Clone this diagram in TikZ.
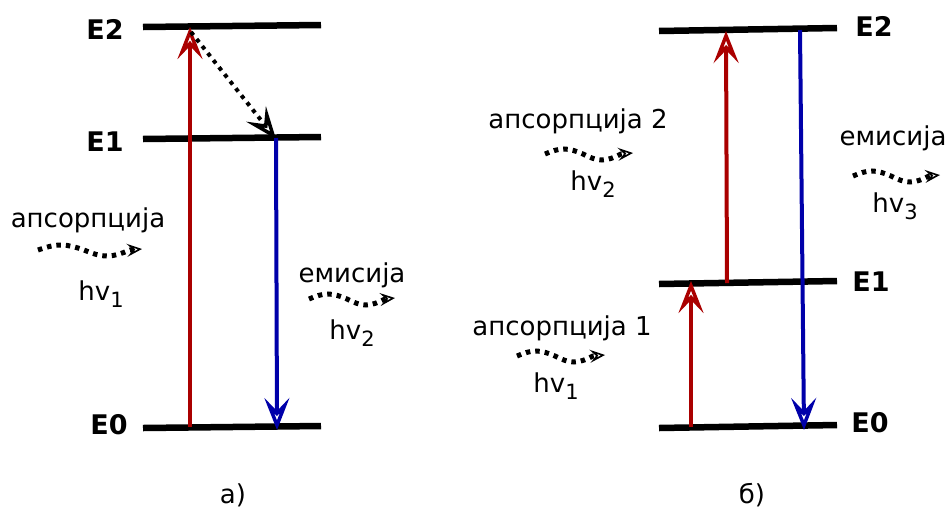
\documentclass[tikz,border=0pt]{standalone}
\usepackage{fontspec}
\setmainfont{DejaVu Sans}
\usetikzlibrary{arrows.meta}
\definecolor{absred}{RGB}{170,0,0}
\definecolor{emiblue}{RGB}{0,0,170}
\newcommand{\lowidx}[1]{\raisebox{-0.3em}{\fontsize{21}{21}\selectfont #1}}

\begin{document}
\begin{tikzpicture}[x=1pt,y=-1pt,
  level/.style={line width=6.5pt},
  lbl/.style={font=\fontsize{27}{30}\selectfont\bfseries,inner sep=0pt},
  txt/.style={font=\fontsize{26}{30}\selectfont,inner sep=0pt,anchor=base},
  bigtip/.style={-{Stealth[length=32pt,width=25pt,inset=13pt,fill=white,line width=3.5pt]}},
  upr/.style={bigtip,draw=absred,line width=4pt},
  dnb/.style={bigtip,draw=emiblue,line width=4pt},
  relax/.style={bigtip,line width=4pt,dash pattern=on 4pt off 5pt},
  photon/.style={line width=5pt,dash pattern=on 4.5pt off 5pt,
    -{Stealth[length=15pt,width=13pt,inset=6pt,fill=white,line width=1.6pt]}}
]
\useasboundingbox (0,0) rectangle (947,512);
% a) levels
\draw[level] (143,27) -- (321,25);
\draw[level] (143,139) -- (321,137);
\draw[level] (143,428) -- (321,426);
\node[lbl] (la2) at (105,29) {E2};
\node[lbl] (la1) at (105,142) {E1};
\node[lbl] (la0) at (109,425) {E0};
% a) transitions
\coordinate (a0r) at (190,427); \coordinate (a2r) at (190,27);
\draw[upr] (a0r) -- (a2r);
\coordinate (a2d) at (191,32); \coordinate (a1d) at (276,139);
\draw[relax] (a2d) -- (a1d);
\coordinate (a1b) at (276,138); \coordinate (a0b) at (277,430);
\draw[dnb] (a1b) -- (a0b);
% a) photons
\node[txt] (absa) at (88,227) {апсорпција};
\coordinate (pa0) at (38,250); \coordinate (pa1) at (142,249);
\draw[photon] (pa0) sin +(23,-5) cos +(23,5) sin +(23,6) cos +(23,-6) -- (pa1);
\node[txt] (hva1) at (101,300) {hv\lowidx{1}};
\node[txt] (emia) at (352,282) {емисија};
\coordinate (pe0) at (309,299); \coordinate (pe1) at (395,298);
\draw[photon] (pe0) sin +(19,-5) cos +(19,5) sin +(19,6) cos +(19,-6) -- (pe1);
\node[txt] (hva2) at (352,339) {hv\lowidx{2}};
\node[txt] (capa) at (233,503) {а)};

% b) levels
\draw[level] (659,31) -- (837,28);
\draw[level] (659,284) -- (837,281);
\draw[level] (659,428) -- (837,425);
\node[lbl] (lb2) at (874,26) {E2};
\node[lbl] (lb1) at (871,282) {E1};
\node[lbl] (lb0) at (870,423) {E0};
% b) transitions
\coordinate (b0r) at (691,427); \coordinate (b1r) at (691,281);
\draw[upr] (b0r) -- (b1r);
\coordinate (b1s) at (727,283); \coordinate (b2s) at (726,31);
\draw[upr] (b1s) -- (b2s);
\coordinate (b2b) at (800,30); \coordinate (b0b) at (804,430);
\draw[dnb] (b2b) -- (b0b);
% b) photons
\node[txt] (absb2) at (578,128) {апсорпција 2};
\coordinate (pb20) at (545,154); \coordinate (pb21) at (633,153);
\draw[photon] (pb20) sin +(19,-5) cos +(19,5) sin +(19,6) cos +(19,-6) -- (pb21);
\node[txt] (hvb2) at (593,190) {hv\lowidx{2}};
\node[txt] (emib) at (893,145) {емисија};
\coordinate (pb30) at (853,176); \coordinate (pb31) at (940,175);
\draw[photon] (pb30) sin +(19,-5) cos +(19,5) sin +(19,6) cos +(19,-6) -- (pb31);
\node[txt] (hvb3) at (895,212) {hv\lowidx{3}};
\node[txt] (absb1) at (562,335) {апсорпција 1};
\coordinate (pb10) at (517,356); \coordinate (pb11) at (605,355);
\draw[photon] (pb10) sin +(19,-5) cos +(19,5) sin +(19,6) cos +(19,-6) -- (pb11);
\node[txt] (hvb1) at (556,392) {hv\lowidx{1}};
\node[txt] (capb) at (752,503) {б)};
\end{tikzpicture}
\end{document}
